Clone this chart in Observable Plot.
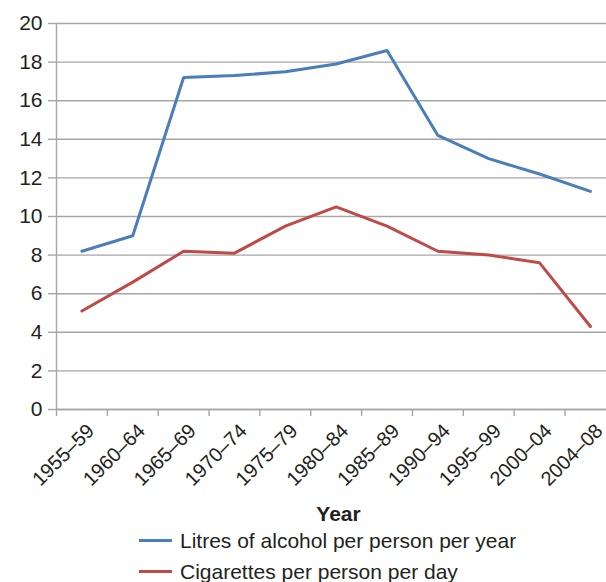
<!DOCTYPE html>
<html>
<head>
<meta charset="utf-8">
<script src="https://cdn.jsdelivr.net/npm/d3@7"></script>
<script src="https://cdn.jsdelivr.net/npm/@observablehq/plot@0.6"></script>
<style>
  html, body { margin: 0; padding: 0; background: #fff; }
  body { width: 606px; height: 582px; overflow: hidden; font-family: "Liberation Sans", Arial, sans-serif; color: #231f20; }
  #chart svg { display: block; }
  .legend { padding-left: 139px; font-size: 21px; margin-top: -3px; }
  .legend .row { display: flex; align-items: center; height: 31px; white-space: nowrap; }
  .legend .swatch { width: 33px; height: 3px; margin-right: 8px; }
</style>
</head>
<body>
<div id="chart"></div>
<div class="legend" id="legend"></div>
<script>
// Five-year periods on the x axis
const periods = ["1955–59", "1960–64", "1965–69", "1970–74", "1975–79", "1980–84",
                 "1985–89", "1990–94", "1995–99", "2000–04", "2004–08"];

// Series values per period
const alcohol = [8.2, 9.0, 17.2, 17.3, 17.5, 17.9, 18.6, 14.2, 13.0, 12.2, 11.3];
const cigarettes = [5.1, 6.6, 8.2, 8.1, 9.5, 10.5, 9.5, 8.2, 8.0, 7.6, 4.3];

const seriesNames = ["Litres of alcohol per person per year", "Cigarettes per person per day"];
const seriesColors = ["#4a7ebb", "#be4b48"];

const yTicks = [0, 2, 4, 6, 8, 10, 12, 14, 16, 18, 20];
const xTitle = "Year";

// Long-format table: one row per period and series
const rows = periods.flatMap((p, i) => [
  {i, period: p, value: alcohol[i], series: seriesNames[0]},
  {i, period: p, value: cigarettes[i], series: seriesNames[1]}
]);
const labels = periods.map((p, i) => ({i, period: p}));

const gridColor = "#a6a6a6";

const chart = Plot.plot({
  width: 606,
  height: 528,
  marginLeft: 56,
  marginRight: 0,
  marginTop: 23,
  marginBottom: 119,
  style: {fontFamily: "'Liberation Sans', Arial, sans-serif", fontSize: "21px", color: "#231f20", background: "#fff"},
  // Category slots are unit-wide; the last slot runs past the right edge
  x: {type: "linear", domain: [0, periods.length], range: [56, 56 + periods.length * 50.85], axis: null},
  y: {domain: [0, 20], axis: null},
  color: {domain: seriesNames, range: seriesColors},
  marks: [
    Plot.gridY(yTicks, {stroke: gridColor, strokeOpacity: 1, strokeWidth: 1.4}),
    Plot.axisY(yTicks, {label: null, tickSize: 8, tickPadding: 6, stroke: gridColor, strokeWidth: 1.4, fill: "#231f20", fontSize: 21}),
    Plot.ruleX([0], {stroke: gridColor, strokeWidth: 1.4}),
    Plot.ruleY([0], {stroke: gridColor, strokeWidth: 1.4}),
    Plot.axisX(d3.range(periods.length), {label: null, tickSize: 7, tickFormat: () => "", stroke: gridColor, strokeWidth: 1.4}),
    Plot.text(labels, {
      x: d => d.i + 0.5, y: () => 0,
      text: "period", rotate: -45, textAnchor: "end",
      dx: 9, dy: 18, fill: "#231f20", fontSize: 20
    }),
    Plot.text([xTitle], {frameAnchor: "bottom", dx: 7, dy: 111, fontWeight: "bold", fontSize: 21, fill: "#231f20"}),
    Plot.line(rows, {x: d => d.i + 0.5, y: "value", stroke: "series", strokeWidth: 3, strokeLinejoin: "miter"})
  ]
});
document.getElementById("chart").append(chart);

// Legend below the plot
const legend = document.getElementById("legend");
seriesNames.forEach((name, k) => {
  const row = document.createElement("div");
  row.className = "row";
  const sw = document.createElement("span");
  sw.className = "swatch";
  sw.style.background = seriesColors[k];
  const label = document.createElement("span");
  label.textContent = name;
  row.append(sw, label);
  legend.append(row);
});
</script>
</body>
</html>
